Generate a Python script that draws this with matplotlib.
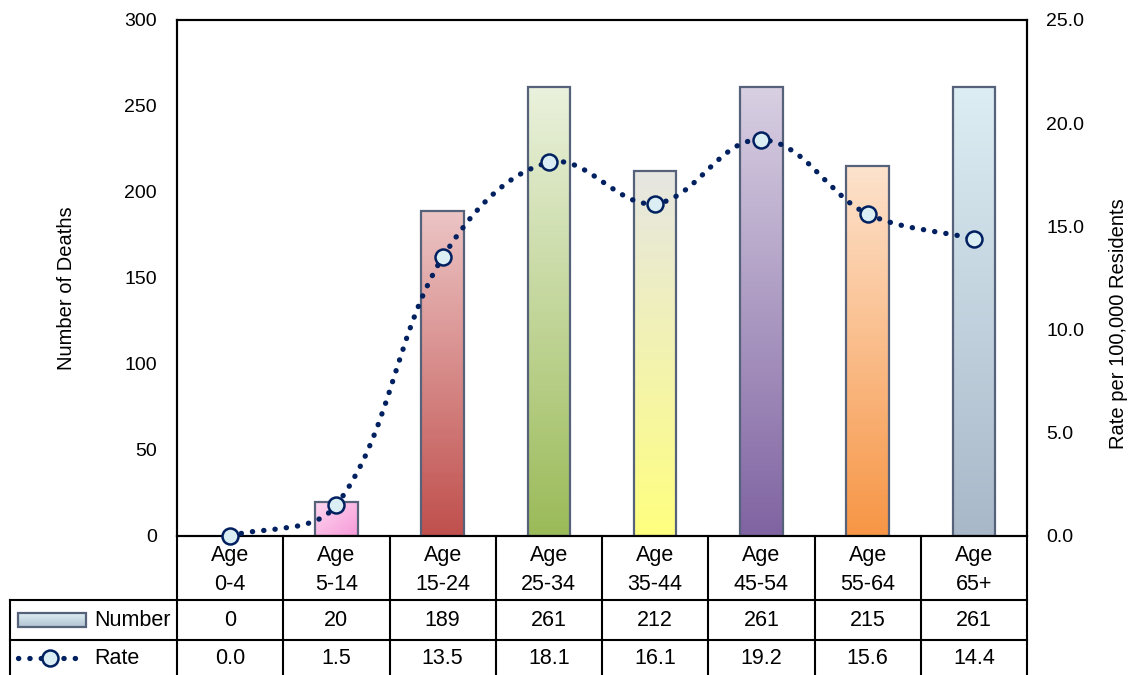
import numpy as np
import matplotlib
matplotlib.use("Agg")
import matplotlib.pyplot as plt
from matplotlib.path import Path
from matplotlib.patches import PathPatch, Rectangle
from matplotlib.colors import to_rgb
from matplotlib.lines import Line2D

plt.rcParams['font.family'] = ['Liberation Sans', 'DejaVu Sans']

age_top = ["Age"] * 8
age_ranges = ["0-4", "5-14", "15-24", "25-34", "35-44", "45-54", "55-64", "65+"]
deaths = [0, 20, 189, 261, 212, 261, 215, 261]
rates = [0.0, 1.5, 13.5, 18.1, 16.1, 19.2, 15.6, 14.4]
left_ticks = [0, 50, 100, 150, 200, 250, 300]
right_ticks = [0.0, 5.0, 10.0, 15.0, 20.0, 25.0]

# top colour, bottom colour of each bar's gradient
bar_colors = [
    ("#dbeef4", "#a9b8c9"),
    ("#fdd8f0", "#f79ad8"),
    ("#ecc4c4", "#c0504d"),
    ("#eaf1dc", "#9bbb59"),
    ("#e6e6e2", "#ffff80"),
    ("#d8cfe2", "#8064a2"),
    ("#fde2cc", "#f79646"),
    ("#dcedf3", "#a9b8c9"),
]
edge_col = "#55627a"
navy = "#002060"
marker_face = "#daeef3"
FS = 14
FS_TAB = 15.5

W, H = 1134, 675
fig = plt.figure(figsize=(W / 100, H / 100), dpi=100)
L, R, T, B = 177, 1027, 20, 536
ax = fig.add_axes([L / W, 1 - B / H, (R - L) / W, (B - T) / H])
ax2 = ax.twinx()

n = len(age_ranges)
x = np.arange(n)
bw = 0.4

for i, (v, (ct, cb)) in enumerate(zip(deaths, bar_colors)):
    if v <= 0:
        continue
    x0, x1 = i - bw / 2, i + bw / 2
    t = np.linspace(0, 1, 64)[:, None]
    ctop, cbot = np.array(to_rgb(ct)), np.array(to_rgb(cb))
    if i == 1:
        # diagonal gradient
        s = np.linspace(0, 1, 32)[None, :]
        f = np.clip((t + s) / 2, 0, 1)[..., None]
    else:
        f = np.repeat(t, 2, axis=1)[..., None]
    img = ctop * (1 - f) + cbot * f
    im = ax.imshow(img, extent=[x0, x1, 0, v], origin="upper",
                   aspect="auto", zorder=2, interpolation="bilinear")
    rect = Rectangle((x0, 0), bw, v, facecolor="none", edgecolor=edge_col,
                     linewidth=1.6, zorder=3)
    ax.add_patch(rect)
    im.set_clip_path(rect)
ax.set_xlim(-0.5, n - 0.5)
ax.set_ylim(0, 300)
ax2.set_ylim(0, 25)


def smooth_path(xs, ys, trans):
    """Bezier path through the points; tangent handles are a third of the
    adjacent segment length (in display space)."""
    P = trans.transform(np.column_stack([xs, ys]).astype(float))
    m = len(P)

    def unit_tangent(k):
        a = P[k - 1] if k > 0 else P[k]
        b = P[k + 1] if k + 1 < m else P[k]
        d = b - a
        return d / np.hypot(*d)

    verts = [P[0]]
    codes = [Path.MOVETO]
    for k in range(m - 1):
        p1, p2 = P[k], P[k + 1]
        seg = np.hypot(*(p2 - p1)) / 3.0
        c1 = p1 + unit_tangent(k) * seg
        c2 = p2 - unit_tangent(k + 1) * seg
        verts += [c1, c2, p2]
        codes += [Path.CURVE4] * 3
    verts = trans.inverted().transform(np.array(verts))
    return Path(verts, codes)


dot_style = (0, (0.05, 2.1))
curve = PathPatch(smooth_path(x, rates, ax2.transData), facecolor="none",
                  edgecolor=navy, linewidth=3.8, linestyle=dot_style,
                  capstyle="round", zorder=4)
ax2.add_patch(curve)
ax2.plot(x, rates, linestyle="none", marker="o", markersize=11.5,
         markerfacecolor=marker_face, markeredgecolor=navy,
         markeredgewidth=1.8, zorder=5, clip_on=False)

# axes styling
for a in (ax, ax2):
    for sp in a.spines.values():
        sp.set_linewidth(1.5)
        sp.set_color("black")
    a.tick_params(length=0, labelsize=FS)
ax.set_xticks([])
ax.set_yticks(left_ticks)
ax.set_yticklabels([str(v) for v in left_ticks])
ax.tick_params(axis="y", pad=14.4)
ax2.set_yticks(right_ticks)
ax2.set_yticklabels([f"{v:.1f}" for v in right_ticks])
ax2.tick_params(axis="y", pad=13.7)


def fx(px):
    return px / W


def fy(py):
    return 1 - py / H


fig.text(fx(67), fy(288), "Number of Deaths", rotation=90, ha="center",
         va="center", fontsize=14.5)
fig.text(fx(1119), fy(324), "Rate per 100,000 Residents", rotation=90,
         ha="center", va="center", fontsize=14.5)

# data table under the plot
lw = 1.5
cell = (R - L) / n
line_kw = dict(color="black", linewidth=lw, transform=fig.transFigure)
fig.add_artist(Line2D([fx(10), fx(R)], [fy(600), fy(600)], **line_kw))
fig.add_artist(Line2D([fx(10), fx(R)], [fy(640), fy(640)], **line_kw))
fig.add_artist(Line2D([fx(10), fx(10)], [fy(600), fy(675)], **line_kw))
for j in range(n + 1):
    xp = L + j * cell
    fig.add_artist(Line2D([fx(xp), fx(xp)], [fy(536), fy(675)], **line_kw))

for j in range(n):
    cx = L + (j + 0.5) * cell
    fig.text(fx(cx), fy(555), age_top[j], ha="center", va="center",
             fontsize=FS_TAB)
    fig.text(fx(cx), fy(585), age_ranges[j], ha="center", va="center",
             fontsize=FS_TAB)
    fig.text(fx(cx), fy(620), f"{deaths[j]}", ha="center", va="center",
             fontsize=FS_TAB)
    fig.text(fx(cx), fy(659), f"{rates[j]:.1f}", ha="center", va="center",
             fontsize=FS_TAB)

# legend keys in the first column
key = fig.add_axes([fx(18), fy(627), fx(86) - fx(18), fy(613) - fy(627)])
key.set_axis_off()
grad = np.linspace(0, 1, 32)[:, None, None]
kt, kb = np.array(to_rgb("#dcedf3")), np.array(to_rgb("#b3c4d3"))
key.imshow(kt * (1 - grad) + kb * grad, aspect="auto", extent=[0, 1, 0, 1])
key.add_patch(Rectangle((0, 0), 1, 1, facecolor="none", edgecolor=edge_col,
                        linewidth=1.6, transform=key.transAxes, clip_on=False))
fig.text(fx(94), fy(620), "Number", ha="left", va="center", fontsize=FS_TAB)

fig.add_artist(Line2D([fx(18), fx(82)], [fy(658), fy(658)], color=navy,
                      linewidth=3.8, linestyle=dot_style,
                      dash_capstyle="round", transform=fig.transFigure))
fig.add_artist(Line2D([fx(50)], [fy(658)], marker="o", markersize=11.5,
                      markerfacecolor=marker_face, markeredgecolor=navy,
                      markeredgewidth=1.8, transform=fig.transFigure))
fig.text(fx(94), fy(658), "Rate", ha="left", va="center", fontsize=FS_TAB)

fig.savefig("out.png", dpi=100)
